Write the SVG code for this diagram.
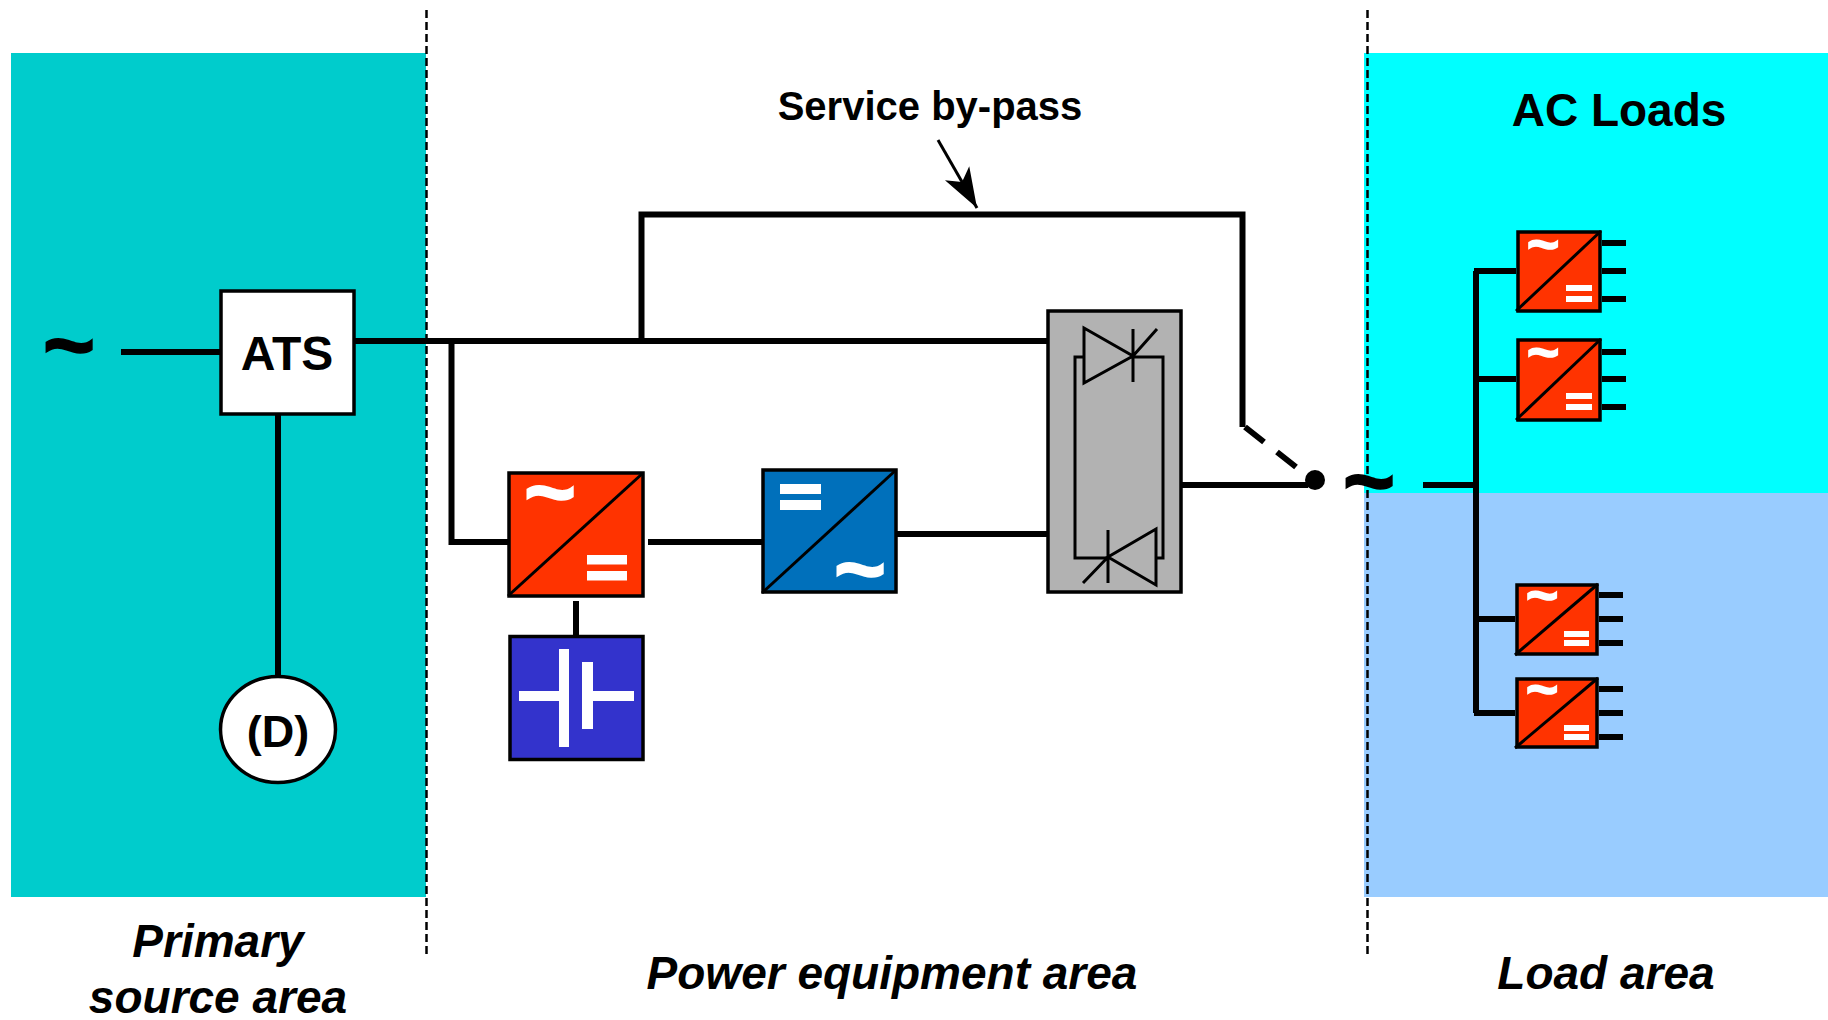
<svg xmlns="http://www.w3.org/2000/svg" width="1828" height="1020" viewBox="0 0 1828 1020">
<defs>
<style>
text{font-family:"Liberation Sans",Arial,sans-serif;font-weight:700;fill:#000}
.it{font-style:italic;font-size:46px;text-anchor:middle}
.w{fill:#fff;text-anchor:middle;stroke:#fff;stroke-width:1.500}
.c{text-anchor:middle}
.k{stroke:#000;stroke-width:1.500}
.l{fill:none;stroke:#000;stroke-width:6}
.t{fill:none;stroke:#000;stroke-width:3}
.b{stroke:#000;stroke-width:3.500}
.o{fill:#FF3300}
.d{stroke:#000;stroke-width:2.500;stroke-dasharray:8 4;fill:none}
</style>
<marker id="ah" viewBox="0 0 40 40" refX="40" refY="20" markerWidth="40" markerHeight="40" markerUnits="userSpaceOnUse" orient="auto"><path d="M40 20 L0 6 L10 20 L0 34 Z" fill="#000"/></marker>
</defs>
<g id="areas">
<rect x="11" y="53" width="415" height="844" fill="#00CCCC"/>
<rect x="1364" y="53" width="464" height="440" fill="#00FFFF"/>
<rect x="1364" y="493" width="464" height="404" fill="#99CCFF"/>
<path class="d" d="M426.500 10V955M1367.500 10V955"/>
</g>
<g id="connectors">
<path class="l" d="M121 352H220M278 414V678M355 341H1047M451.500 341V542H508M648 542H762M576 601V639M897 534H1047M641.500 341V214.500H1242.500V427M1182 485H1308M1423 485H1476M1476 271V713M1474 271H1516M1476 379H1516M1476 619H1515M1474 713H1515"/>
<path class="l" d="M1245 427L1264 442M1277 452L1296 467"/>
<path class="l" d="M1602 243H1626M1602 271H1626M1602 299H1626M1602 352H1626M1602 379H1626M1602 407H1626M1599 595H1623M1599 619H1623M1599 643H1623M1599 689H1623M1599 713H1623M1599 737H1623"/>
<path d="M938 140L977 208" fill="none" stroke="#000" stroke-width="3" marker-end="url(#ah)"/>
</g>
<g id="ats"><rect x="221" y="291" width="133" height="123" fill="#fff" class="b"/><text class="c" x="287" y="370" font-size="48">ATS</text></g>
<g id="diesel"><ellipse cx="278" cy="729.500" rx="57.500" ry="53" fill="#fff" class="b"/><text class="c" x="278" y="747" font-size="45">(D)</text></g>
<g id="rectifier"><rect x="509" y="473" width="134" height="123" class="o b"/><path class="t" d="M508 596L643 473"/>
<text class="w" x="550" y="523" font-size="90">~</text><rect x="587" y="555" width="40" height="9.500" fill="#fff"/><rect x="587" y="571" width="40" height="9.500" fill="#fff"/></g>
<g id="inverter"><rect x="763" y="470" width="133" height="122" fill="#0070BB" class="b"/><path class="t" d="M762 593L896 470"/>
<rect x="780" y="484" width="41" height="10" fill="#fff"/><rect x="780" y="500" width="41" height="10" fill="#fff"/><text class="w" x="860" y="600" font-size="90">~</text></g>
<g id="battery"><rect x="510" y="636.500" width="133" height="123" fill="#3333CC" class="b"/>
<path fill="#fff" d="M519 691H559V649H569V747H559V701H519ZM582 662H593V691H634V701H593V729H582Z"/></g>
<g id="static-switch"><rect x="1048" y="311" width="133" height="281" fill="#B2B2B2" class="b"/>
<path class="t" d="M1084 357H1075V558H1108M1133 357H1163V558H1156"/>
<path class="t" d="M1084 328L1133 356L1084 383ZM1133 329V382M1133 356L1157 329M1156 529L1108 557L1156 585ZM1108 530V583M1108 557L1083 583"/></g>
<g id="switch-contact"><circle cx="1315" cy="480" r="10"/></g>
<g id="source-symbols"><text class="c k" x="69" y="376" font-size="90">~</text><text class="c k" x="1369" y="512" font-size="90">~</text></g>
<g id="load-1"><rect x="1518" y="232" width="82" height="79" class="o b"/><path class="t" d="M1516 311L1601 231"/><text class="w" x="1543" y="263" font-size="56">~</text><rect x="1566" y="285" width="26" height="6" fill="#fff"/><rect x="1566" y="296" width="26" height="6" fill="#fff"/></g>
<g id="load-2"><rect x="1518" y="340" width="82" height="80" class="o b"/><path class="t" d="M1516 420L1601 339"/><text class="w" x="1543" y="371" font-size="56">~</text><rect x="1566" y="393" width="26" height="6" fill="#fff"/><rect x="1566" y="404" width="26" height="6" fill="#fff"/></g>
<g id="load-3"><rect x="1517" y="585" width="80" height="69" class="o b"/><path class="t" d="M1515 655L1598 584"/><text class="w" x="1542" y="614" font-size="56">~</text><rect x="1564" y="631" width="25" height="6" fill="#fff"/><rect x="1564" y="640" width="25" height="6" fill="#fff"/></g>
<g id="load-4"><rect x="1517" y="679" width="80" height="68" class="o b"/><path class="t" d="M1515 748L1598 678"/><text class="w" x="1542" y="708" font-size="56">~</text><rect x="1564" y="725" width="25" height="6" fill="#fff"/><rect x="1564" y="734" width="25" height="6" fill="#fff"/></g>
<g id="labels">
<text class="c" x="930" y="120" font-size="40">Service by-pass</text>
<text class="c" x="1619" y="126" font-size="46">AC Loads</text>
<text class="it" x="218" y="957">Primary</text>
<text class="it" x="218" y="1013">source area</text>
<text class="it" x="892" y="989">Power equipment area</text>
<text class="it" x="1606" y="989">Load area</text>
</g>
</svg>
